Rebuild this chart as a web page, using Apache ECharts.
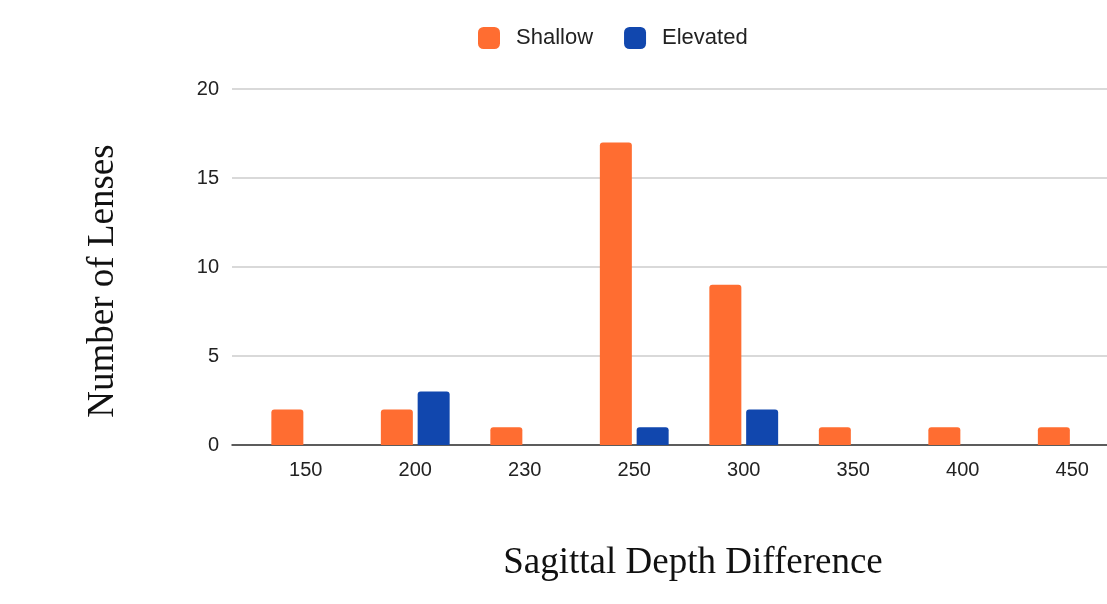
<!DOCTYPE html>
<html>
<head>
<meta charset="utf-8">
<script src="https://cdn.jsdelivr.net/npm/echarts@6/dist/echarts.min.js"></script>
<style>
  html, body { margin: 0; padding: 0; background: #fff; }
  #chart { width: 1107px; height: 604px; }
</style>
</head>
<body>
<div id="chart"></div>
<script>
// Sagittal depth difference groups and lens counts per fit type
const categories = ['150', '200', '230', '250', '300', '350', '400', '450'];
const shallow = [2, 2, 1, 17, 9, 1, 1, 1];
const elevated = [0, 3, 0, 1, 2, 0, 0, 0];
const yTicks = { min: 0, max: 20, interval: 5 };

const ORANGE = '#ff6d31';
const BLUE = '#1147ae';
const SANS = 'Liberation Sans, Arial, sans-serif';
const SERIF = 'Liberation Serif, Times New Roman, serif';

const chart = echarts.init(document.getElementById('chart'), null, { renderer: 'canvas' });

chart.setOption({
  backgroundColor: '#ffffff',
  animation: false,
  legend: {
    left: 473,
    top: 22,
    itemWidth: 22,
    itemHeight: 22,
    itemGap: 31,
    icon: 'roundRect',
    textStyle: { fontFamily: SANS, fontSize: 22, color: '#222222', padding: [0, 0, 0, 11] },
    data: ['Shallow', 'Elevated']
  },
  grid: [
    // frame for gridlines, value labels and the baseline
    { left: 232, right: 0, top: 89, bottom: 159 },
    // frame for the bars and category labels (runs past the right edge)
    { left: 251, width: 876, top: 89, bottom: 159, outerBoundsMode: 'none', containLabel: false }
  ],
  xAxis: [
    {
      gridIndex: 0,
      type: 'category',
      data: categories,
      axisLine: { show: true, lineStyle: { color: '#333333', width: 1.5 } },
      axisTick: { show: false },
      axisLabel: { show: false }
    },
    {
      gridIndex: 1,
      type: 'category',
      data: categories,
      axisLine: { show: false },
      axisTick: { show: false },
      axisLabel: { margin: 15, fontFamily: SANS, fontSize: 20, color: '#222222' }
    }
  ],
  yAxis: [
    {
      gridIndex: 0,
      type: 'value',
      min: yTicks.min,
      max: yTicks.max,
      interval: yTicks.interval,
      axisLine: { show: false },
      axisTick: { show: false },
      axisLabel: { margin: 13, fontFamily: SANS, fontSize: 20, color: '#222222' },
      splitLine: { lineStyle: { color: '#cccccc', width: 1.5 } }
    },
    {
      gridIndex: 1,
      type: 'value',
      min: yTicks.min,
      max: yTicks.max,
      interval: yTicks.interval,
      show: false,
      splitLine: { show: false }
    }
  ],
  graphic: [
    {
      type: 'text',
      x: 103,
      y: 281,
      rotation: Math.PI / 2,
      style: {
        text: 'Number of Lenses',
        font: '37px ' + SERIF,
        fill: '#111111',
        align: 'center',
        verticalAlign: 'middle'
      }
    },
    {
      type: 'text',
      x: 693,
      y: 563,
      style: {
        text: 'Sagittal Depth Difference',
        font: '37px ' + SERIF,
        fill: '#111111',
        align: 'center',
        verticalAlign: 'middle'
      }
    }
  ],
  series: [
    {
      name: 'Shallow',
      type: 'bar',
      xAxisIndex: 1,
      yAxisIndex: 1,
      data: shallow,
      barWidth: 32,
      barGap: '15%',
      itemStyle: { color: ORANGE, borderRadius: [3, 3, 0, 0] }
    },
    {
      name: 'Elevated',
      type: 'bar',
      xAxisIndex: 1,
      yAxisIndex: 1,
      data: elevated,
      barWidth: 32,
      barGap: '15%',
      itemStyle: { color: BLUE, borderRadius: [3, 3, 0, 0] }
    }
  ]
});
</script>
</body>
</html>
